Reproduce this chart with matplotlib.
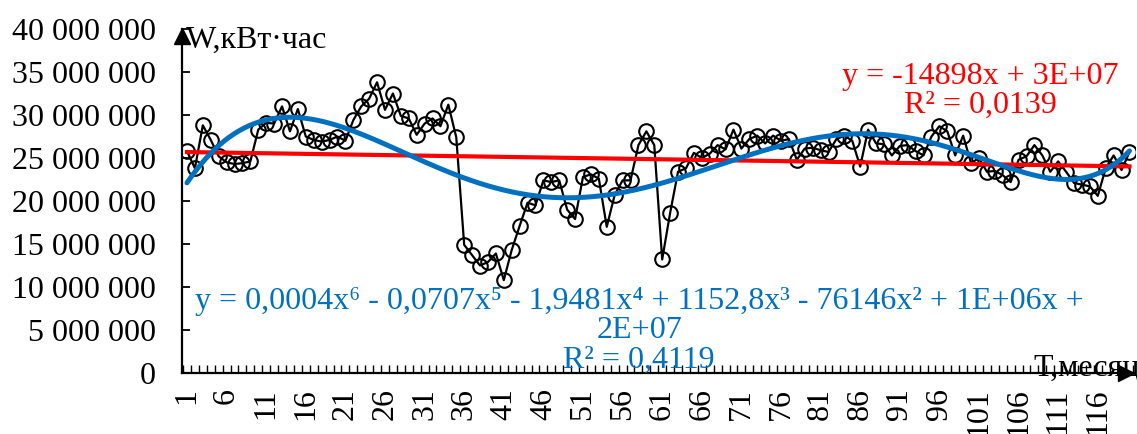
import numpy as np
import matplotlib
matplotlib.use("Agg")
import matplotlib.pyplot as plt
from matplotlib import transforms
from matplotlib.ticker import FuncFormatter, FixedLocator

plt.rcParams['font.family'] = ['Liberation Serif', 'DejaVu Serif']

# Monthly electricity consumption, million kWh
months = np.arange(1, 121)
consumption_mln = [
    25.8, 23.8, 28.8, 27.1, 25.2, 24.5, 24.3, 24.4, 24.6, 28.3,
    29.1, 29.0, 31.0, 28.1, 30.7, 27.5, 27.1, 26.9, 27.1, 27.5,
    27.0, 29.4, 31.0, 31.9, 33.8, 30.6, 32.5, 29.9, 29.6, 27.7,
    29.0, 29.6, 28.7, 31.2, 27.4, 14.9, 13.7, 12.5, 12.9, 13.9,
    10.8, 14.3, 17.1, 19.8, 19.5, 22.4, 22.2, 22.4, 19.0, 17.9,
    22.8, 23.1, 22.6, 17.0, 20.7, 22.4, 22.4, 26.5, 28.1, 26.5,
    13.2, 18.6, 23.4, 23.8, 25.6, 25.0, 25.5, 26.5, 26.0, 28.3,
    26.1, 27.2, 27.6, 26.7, 27.6, 27.0, 27.2, 24.8, 26.1, 26.2,
    25.9, 25.7, 27.2, 27.6, 27.0, 24.0, 28.3, 26.7, 26.6, 25.3,
    26.4, 26.5, 25.8, 25.3, 27.5, 28.7, 28.1, 25.3, 27.6, 24.4,
    25.0, 23.4, 23.5, 23.0, 22.2, 24.8, 25.2, 26.5, 25.3, 23.4,
    24.6, 23.4, 22.1, 21.9, 21.7, 20.6, 23.8, 25.3, 23.6, 25.7,
]
consumption = np.array(consumption_mln) * 1e6

y_ticks = np.arange(0, 40_000_001, 5_000_000)
x_label_ticks = np.arange(1, 121, 5)

linear_eq = "y = -14898x + 3E+07\nR² = 0,0139"
poly_eq = ("y = 0,0004x⁶ - 0,0707x⁵ - 1,9481x⁴ + 1152,8x³ - 76146x² + 1E+06x +\n"
           "2E+07\nR² = 0,4119")

# Trend lines fitted to the series
lin = np.polynomial.Polynomial.fit(months, consumption, 1)
poly6 = np.polynomial.Polynomial.fit(months, consumption, 6)
xs = np.linspace(1, 120, 600)

FS = 23
W, H = 1137, 434
fig = plt.figure(figsize=(W / 100, H / 100), dpi=100)
ax_left, ax_right, ax_bottom, ax_top = 182, 1135, 373, 29
ax = fig.add_axes([ax_left / W, (H - ax_bottom) / H,
                   (ax_right - ax_left) / W, (ax_bottom - ax_top) / H])

ax.plot(months, consumption, color='black', lw=1.6, marker='o', ms=10.5,
        mfc='none', mec='black', mew=1.5, zorder=2)
ax.plot(xs, lin(xs), color='#FF0000', lw=3.0, zorder=3)
ax.plot(xs, poly6(xs), color='#0070C0', lw=3.6, zorder=4, solid_capstyle='round')

ax.set_xlim(0.37, 0.37 + (ax_right - ax_left) / 7.92)
ax.set_ylim(0, 40_000_000)

for s in ('top', 'right'):
    ax.spines[s].set_visible(False)
for s in ('left', 'bottom'):
    ax.spines[s].set_linewidth(1.6)

ax.set_yticks(y_ticks)
ax.yaxis.set_major_formatter(FuncFormatter(lambda v, p: f"{int(v):,}".replace(",", " ")))
ax.tick_params(axis='y', direction='in', length=6, width=1.3, pad=19, labelsize=FS)

ax.xaxis.set_major_locator(FixedLocator(x_label_ticks))
ax.set_xticklabels([str(v) for v in x_label_ticks], rotation=90)
ax.xaxis.set_minor_locator(FixedLocator(np.arange(0.5, 121, 1)))
ax.tick_params(axis='x', which='major', length=0, pad=11, labelsize=FS)
ax.tick_params(axis='x', which='minor', direction='in', length=5.5, width=1.0)

# Axis arrow heads
up = transforms.offset_copy(ax.transAxes, fig=fig, x=0, y=-7, units='dots')
ax.plot(0, 1, marker='^', color='black', ms=11, transform=up, clip_on=False, zorder=6)
right = transforms.offset_copy(ax.transAxes, fig=fig, x=-9, y=0, units='dots')
ax.plot(1, 0, marker='>', color='black', ms=11, transform=right, clip_on=False, zorder=6)

def px(x, y):
    return x / W, 1 - y / H

fig.text(*px(186, 40), "W,кВт·час", fontsize=FS, ha='left', va='center')
fig.text(*px(1033, 368), "T,месяц", fontsize=FS, ha='left', va='center')
fig.text(*px(980, 91), linear_eq, fontsize=FS, color='#FF0000',
         ha='center', va='center', linespacing=1.0, multialignment='center')
fig.text(*px(639, 331), poly_eq, fontsize=FS, color='#0070C0',
         ha='center', va='center', linespacing=1.0, multialignment='center')

fig.savefig("out.png", dpi=100)
